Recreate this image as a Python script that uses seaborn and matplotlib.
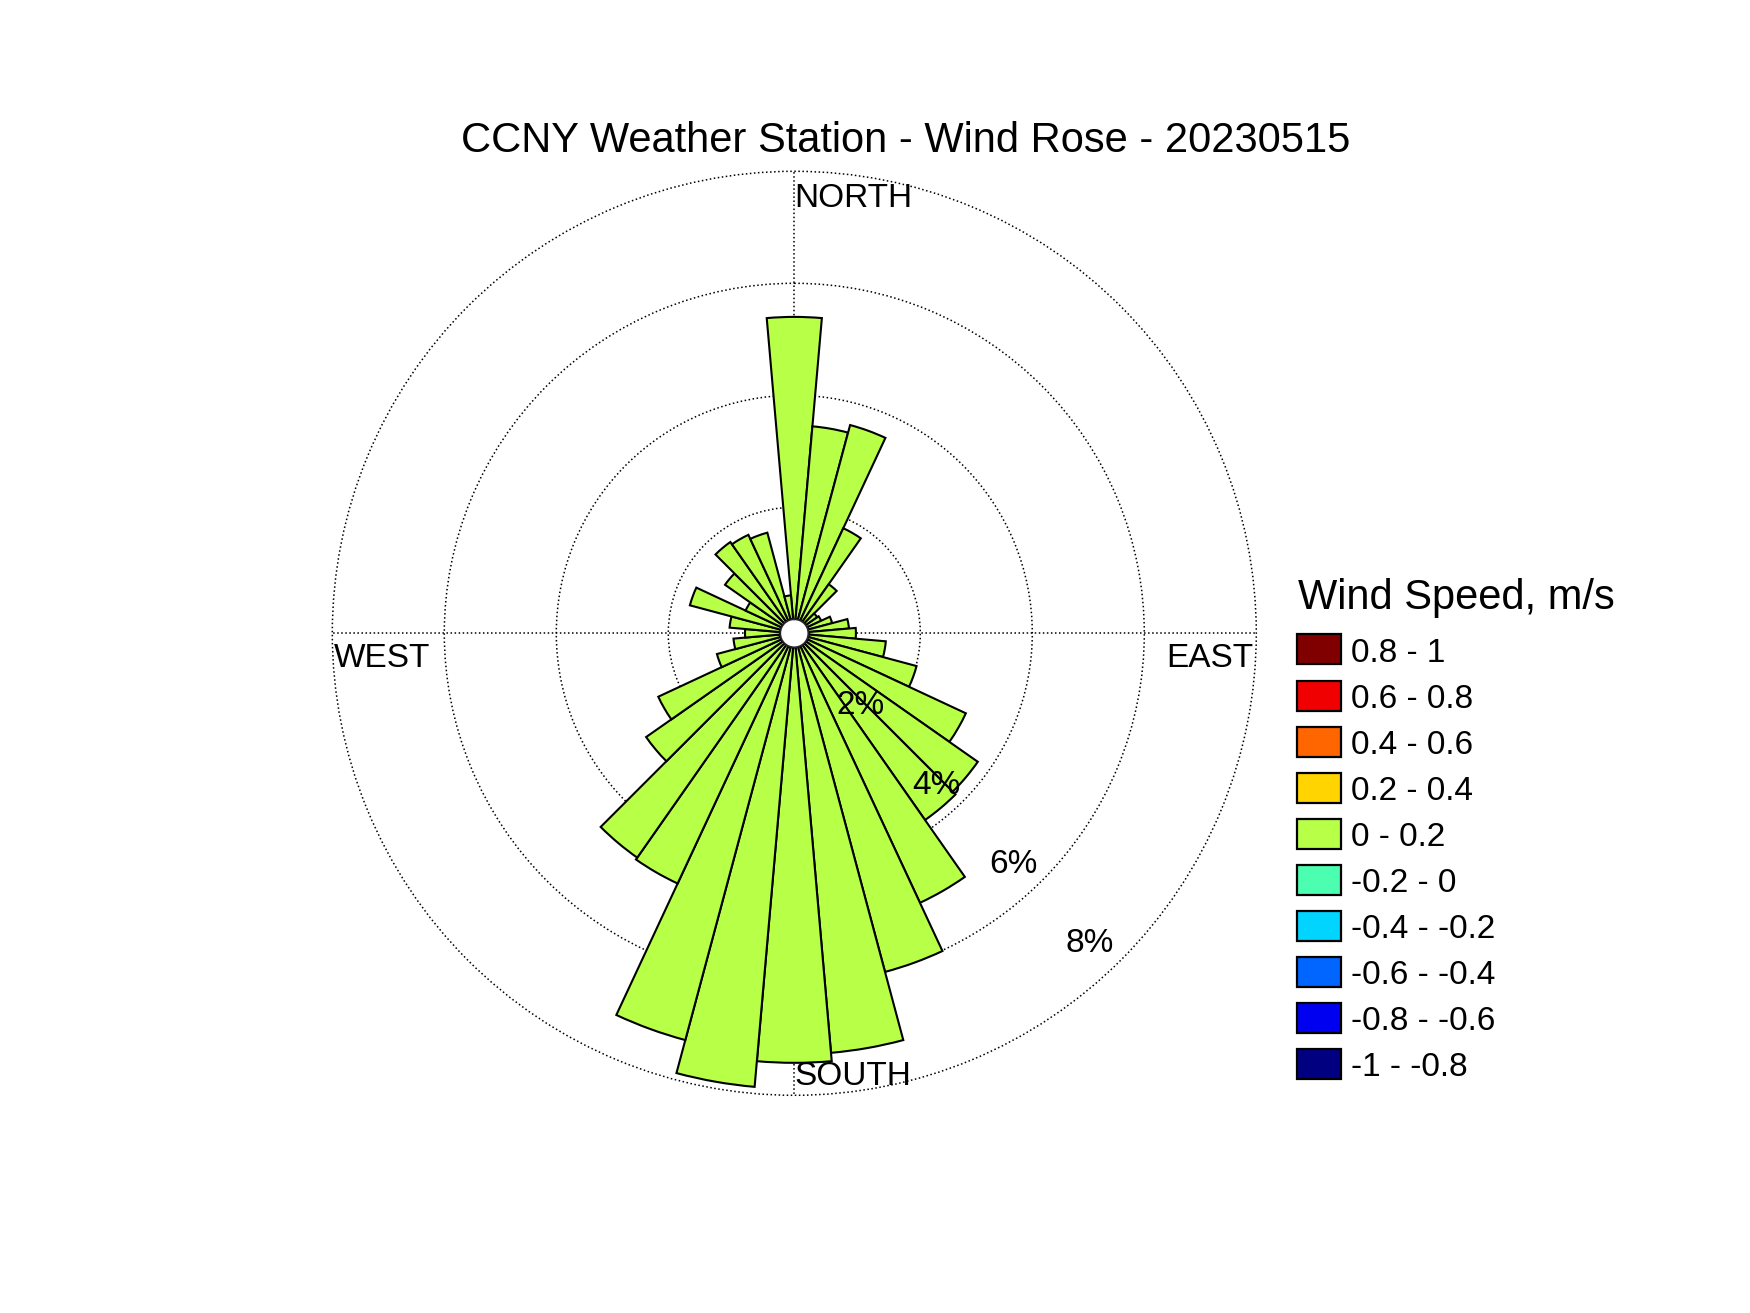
import numpy as np
import matplotlib
matplotlib.use("Agg")
import matplotlib.pyplot as plt
from matplotlib.patches import Rectangle
import seaborn as sns

# wind direction sectors (deg, clockwise from north) and frequency in %
directions = np.arange(0, 360, 10)
freq = [5.40, 3.46, 3.60, 1.82, 0.82, 0.25, 0.28, 0.45, 0.73, 0.85,
        1.39, 2.01, 3.13, 3.75, 3.82, 5.06, 6.01, 7.27, 7.42, 7.88,
        7.27, 4.68, 4.64, 2.98, 2.43, 1.18, 0.84, 0.63, 0.91, 1.68,
        0.71, 1.26, 1.74, 1.69, 1.61, 0.43]

rings = [2, 4, 6, 8]
speed_bins = ['0.8 - 1', '0.6 - 0.8', '0.4 - 0.6', '0.2 - 0.4', '0 - 0.2',
              '-0.2 - 0', '-0.4 - -0.2', '-0.6 - -0.4', '-0.8 - -0.6', '-1 - -0.8']
bin_colors = ['#800000', '#F00000', '#FF6600', '#FFD400', '#B8FF48',
              '#4CFFB0', '#00D4FF', '#0066FF', '#0000F0', '#000080']
bar_color = bin_colors[4]

title = 'CCNY Weather Station - Wind Rose - 20230515'

sns.set_theme(style='white')
plt.rcParams['font.family'] = ['Liberation Sans', 'DejaVu Sans']
plt.rcParams['text.color'] = 'black'

W, H = 1750, 1313
fig = plt.figure(figsize=(W / 100, H / 100), dpi=100)


def fx(x):
    return x / W


def fy(y):
    return 1 - y / H


# polar axes: centre (794, 633) px, outer ring radius 462 px
cx, cy, R = 794.3, 633.3, 462
ax = fig.add_axes([fx(cx - R), fy(cy + R), 2 * R / W, 2 * R / H],
                  projection='polar')
ax.set_theta_zero_location('N')
ax.set_theta_direction(-1)
ax.set_rorigin(-0.25)
ax.set_ylim(0, 8)
ax.set_yticks(rings)
ax.set_yticklabels([])
ax.set_xticks(np.deg2rad([0, 90, 180, 270]))
ax.set_xticklabels([])
ax.grid(True, linestyle=':', color='black', linewidth=1.1)
for gl in ax.yaxis.get_gridlines():
    gl.set_clip_on(False)
ax.spines['polar'].set_visible(False)
ax.set_facecolor('white')
ax.set_axisbelow(True)

ax.bar(np.deg2rad(directions), freq, width=np.deg2rad(10), bottom=0,
       color=bar_color, edgecolor='black', linewidth=1.5, align='center',
       zorder=2)

# ring labels
for v in rings:
    ax.annotate(f'{v}%', xy=(np.deg2rad(136), 0.983 * v - 0.516),
                xytext=(0, -3), textcoords='offset points',
                ha='center', va='center', fontsize=24, zorder=3)

# compass labels
fig.text(fx(794), fy(206.7), 'NORTH', ha='left', va='baseline', fontsize=24)
fig.text(fx(794), fy(1085), 'SOUTH', ha='left', va='baseline', fontsize=24)
fig.text(fx(334), fy(666.7), 'WEST', ha='left', va='baseline', fontsize=24)
fig.text(fx(1253), fy(666.7), 'EAST', ha='right', va='baseline', fontsize=24)

fig.text(fx(905.8), fy(152), title, ha='center', va='baseline', fontsize=30)

# legend
fig.text(fx(1298), fy(609), 'Wind Speed, m/s', ha='left', va='baseline',
         fontsize=30)
for i, (lab, col) in enumerate(zip(speed_bins, bin_colors)):
    yc = 649.5 + 46.0 * i
    fig.add_artist(Rectangle((fx(1296.7), fy(yc + 15)), 44 / W, 30 / H,
                             transform=fig.transFigure, facecolor=col,
                             edgecolor='black', linewidth=1.6))
    fig.text(fx(1351), fy(yc + 12.6), lab, ha='left', va='baseline',
             fontsize=24)

fig.savefig('out.png', dpi=100, facecolor='white')
